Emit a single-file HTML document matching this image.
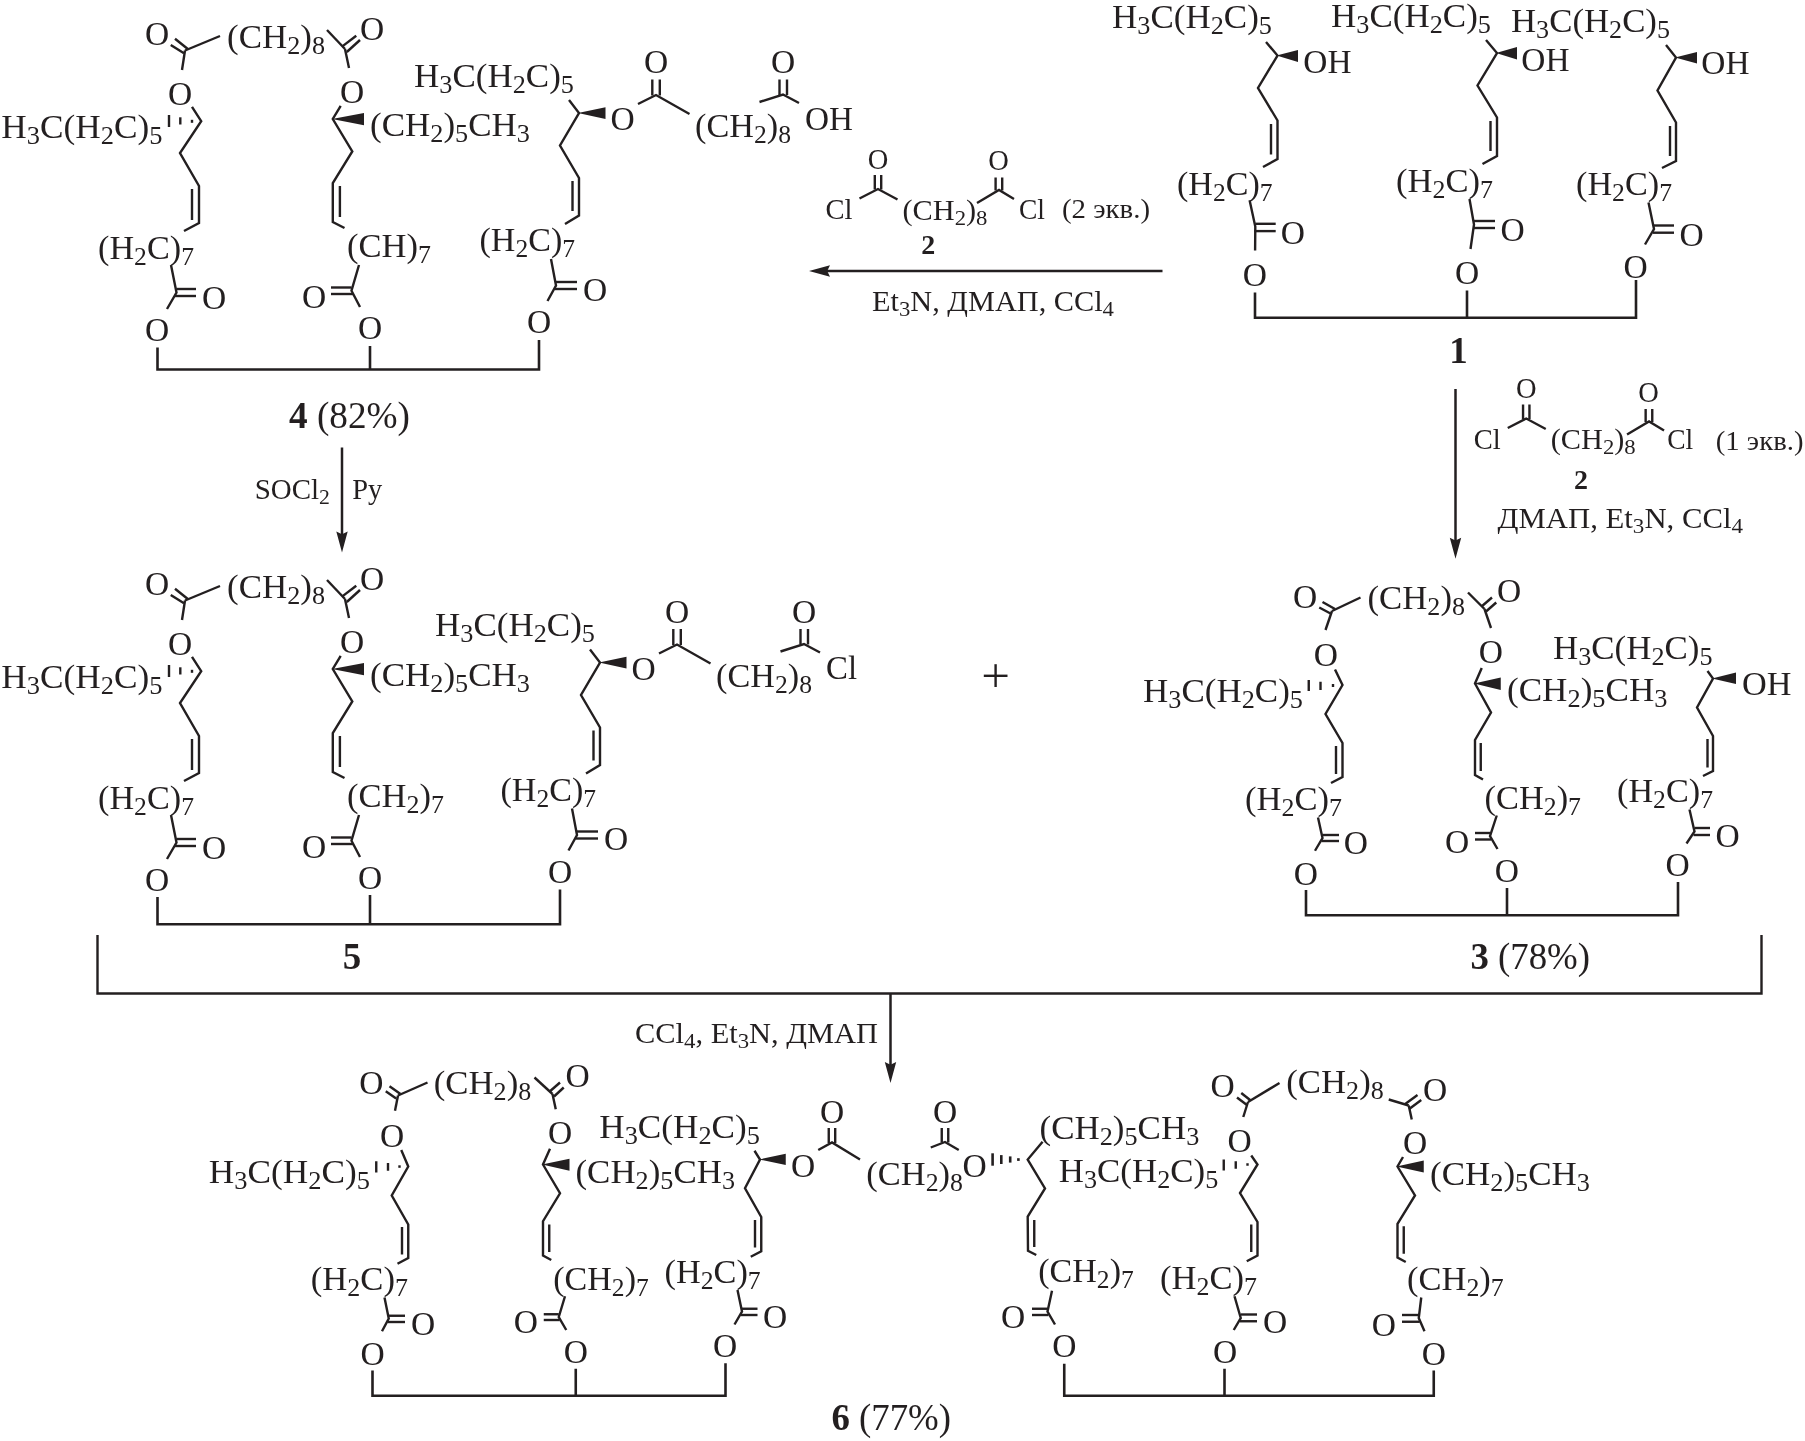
<!DOCTYPE html>
<html lang="ru">
<head>
<meta charset="utf-8">
<title>Reaction scheme</title>
<style>
html,body{margin:0;padding:0;background:#fff;}
svg{display:block;will-change:transform;}
svg text{font-family:"Liberation Serif",serif;font-size:33.5px;fill:#231f20;stroke:none;white-space:pre;}
svg line,svg polyline{stroke:#231f20;stroke-linecap:butt;}
</style>
</head>
<body>
<svg width="1805" height="1441" viewBox="0 0 1805 1441">
<rect x="0" y="0" width="1805" height="1441" fill="#ffffff"/>
<text x="157" y="44.97" text-anchor="middle">O</text>
<line x1="175" y1="38.75" x2="187.8" y2="49" stroke-width="2.4"/>
<line x1="170.75" y1="45" x2="184" y2="53.3" stroke-width="2.4"/>
<line x1="185" y1="50.5" x2="220" y2="36" stroke-width="2.4"/>
<line x1="185" y1="50.5" x2="182" y2="70" stroke-width="2.4"/>
<text x="227" y="47.8" textLength="98" lengthAdjust="spacingAndGlyphs">(CH<tspan dy="6" font-size="25.12">2</tspan><tspan dy="-6">)</tspan><tspan dy="6" font-size="25.12">8</tspan></text>
<line x1="327" y1="30" x2="345" y2="49" stroke-width="2.4"/>
<line x1="342.3" y1="46.4" x2="356.25" y2="35.75" stroke-width="2.4"/>
<line x1="346.8" y1="52" x2="360" y2="40" stroke-width="2.4"/>
<line x1="345" y1="49" x2="349" y2="68" stroke-width="2.4"/>
<text x="372" y="39.97" text-anchor="middle">O</text>
<text x="180" y="104.97" text-anchor="middle">O</text>
<text x="352" y="102.97" text-anchor="middle">O</text>
<polyline points="192,106.8 201.2,121.2 180,153 199,186 199,223 184,231" fill="none" stroke-width="2.4" stroke-linejoin="miter"/>
<line x1="192" y1="189" x2="192" y2="220" stroke-width="2.4"/>
<line x1="169" y1="115" x2="169" y2="127" stroke-width="2.4"/>
<line x1="180.3" y1="117.3" x2="180.3" y2="124.5" stroke-width="2.4"/>
<line x1="192" y1="119.8" x2="192" y2="122.8" stroke-width="2.4"/>
<text x="1.3" y="138.3" textLength="161.1" lengthAdjust="spacingAndGlyphs">H<tspan dy="6" font-size="25.12">3</tspan><tspan dy="-6">C(H</tspan><tspan dy="6" font-size="25.12">2</tspan><tspan dy="-6">C)</tspan><tspan dy="6" font-size="25.12">5</tspan></text>
<text x="98" y="258.8" textLength="96" lengthAdjust="spacingAndGlyphs">(H<tspan dy="6" font-size="25.12">2</tspan><tspan dy="-6">C)</tspan><tspan dy="6" font-size="25.12">7</tspan></text>
<polyline points="171,265 176.5,292.5 167,309" fill="none" stroke-width="2.4" stroke-linejoin="miter"/>
<line x1="176.5" y1="289" x2="196" y2="289" stroke-width="2.4"/>
<line x1="175" y1="296" x2="196" y2="296" stroke-width="2.4"/>
<text x="214" y="308.97" text-anchor="middle">O</text>
<text x="157" y="340.97" text-anchor="middle">O</text>
<polyline points="340.7,105.8 332.8,119 352.3,151.5 332.8,183 332.8,222 344.5,228" fill="none" stroke-width="2.4" stroke-linejoin="miter"/>
<line x1="339.9" y1="186" x2="339.9" y2="217" stroke-width="2.4"/>
<polygon points="332,119 364,112.9 364,125.2" fill="#231f20" stroke="none"/>
<text x="370" y="136" textLength="160" lengthAdjust="spacingAndGlyphs">(CH<tspan dy="6" font-size="25.12">2</tspan><tspan dy="-6">)</tspan><tspan dy="6" font-size="25.12">5</tspan><tspan dy="-6">CH</tspan><tspan dy="6" font-size="25.12">3</tspan></text>
<text x="347" y="257.2" textLength="84" lengthAdjust="spacingAndGlyphs">(CH)<tspan dy="6" font-size="25.12">7</tspan></text>
<polyline points="359,265 351.5,290.7 360,307" fill="none" stroke-width="2.4" stroke-linejoin="miter"/>
<line x1="331" y1="287.5" x2="351.5" y2="287.5" stroke-width="2.4"/>
<line x1="331" y1="294" x2="353" y2="294" stroke-width="2.4"/>
<text x="314" y="307.97" text-anchor="middle">O</text>
<text x="370" y="338.97" text-anchor="middle">O</text>
<text x="414" y="86.8" textLength="160" lengthAdjust="spacingAndGlyphs">H<tspan dy="6" font-size="25.12">3</tspan><tspan dy="-6">C(H</tspan><tspan dy="6" font-size="25.12">2</tspan><tspan dy="-6">C)</tspan><tspan dy="6" font-size="25.12">5</tspan></text>
<polyline points="569,100 579,113 560,145.5 579,178 579,215.5 565,224" fill="none" stroke-width="2.4" stroke-linejoin="miter"/>
<line x1="572.5" y1="181" x2="572.5" y2="211" stroke-width="2.4"/>
<polygon points="578,113 605.5,107.3 605.5,119" fill="#231f20" stroke="none"/>
<text x="622.5" y="130.47" text-anchor="middle">O</text>
<polyline points="638,104 656,95 689.5,114" fill="none" stroke-width="2.4" stroke-linejoin="miter"/>
<line x1="652.3" y1="95.5" x2="652.3" y2="79.5" stroke-width="2.4"/>
<line x1="659.8" y1="95.5" x2="659.8" y2="79.5" stroke-width="2.4"/>
<text x="656" y="73.47" text-anchor="middle">O</text>
<text x="695" y="137" textLength="96" lengthAdjust="spacingAndGlyphs">(CH<tspan dy="6" font-size="25.12">2</tspan><tspan dy="-6">)</tspan><tspan dy="6" font-size="25.12">8</tspan></text>
<polyline points="759.5,102 783,94.5 799,103" fill="none" stroke-width="2.4" stroke-linejoin="miter"/>
<line x1="779.5" y1="95" x2="779.5" y2="79.5" stroke-width="2.4"/>
<line x1="787" y1="95" x2="787" y2="79.5" stroke-width="2.4"/>
<text x="783" y="73.47" text-anchor="middle">O</text>
<text x="805" y="129.8" textLength="48" lengthAdjust="spacingAndGlyphs">OH</text>
<text x="479.5" y="251.3" textLength="95.5" lengthAdjust="spacingAndGlyphs">(H<tspan dy="6" font-size="25.12">2</tspan><tspan dy="-6">C)</tspan><tspan dy="6" font-size="25.12">7</tspan></text>
<polyline points="551,259 556,285.5 547.5,301" fill="none" stroke-width="2.4" stroke-linejoin="miter"/>
<line x1="556" y1="282" x2="577" y2="282" stroke-width="2.4"/>
<line x1="555" y1="289" x2="577" y2="289" stroke-width="2.4"/>
<text x="595" y="300.97" text-anchor="middle">O</text>
<text x="539" y="333.47" text-anchor="middle">O</text>
<polyline points="157.5,347.5 157.5,369.5 539,369.5 539,340" fill="none" stroke-width="2.6" stroke-linejoin="miter"/>
<line x1="370" y1="346" x2="370" y2="369.5" stroke-width="2.6"/>
<text x="157" y="594.97" text-anchor="middle">O</text>
<line x1="175" y1="588.75" x2="187.8" y2="599" stroke-width="2.4"/>
<line x1="170.75" y1="595" x2="184" y2="603.3" stroke-width="2.4"/>
<line x1="185" y1="600.5" x2="220" y2="586" stroke-width="2.4"/>
<line x1="185" y1="600.5" x2="182" y2="620" stroke-width="2.4"/>
<text x="227" y="597.8" textLength="98" lengthAdjust="spacingAndGlyphs">(CH<tspan dy="6" font-size="25.12">2</tspan><tspan dy="-6">)</tspan><tspan dy="6" font-size="25.12">8</tspan></text>
<line x1="327" y1="580" x2="345" y2="599" stroke-width="2.4"/>
<line x1="342.3" y1="596.4" x2="356.25" y2="585.75" stroke-width="2.4"/>
<line x1="346.8" y1="602" x2="360" y2="590" stroke-width="2.4"/>
<line x1="345" y1="599" x2="349" y2="618" stroke-width="2.4"/>
<text x="372" y="589.97" text-anchor="middle">O</text>
<text x="180" y="654.97" text-anchor="middle">O</text>
<text x="352" y="652.97" text-anchor="middle">O</text>
<polyline points="192,656.8 201.2,671.2 180,703 199,736 199,773 184,781" fill="none" stroke-width="2.4" stroke-linejoin="miter"/>
<line x1="192" y1="739" x2="192" y2="770" stroke-width="2.4"/>
<line x1="169" y1="665" x2="169" y2="677" stroke-width="2.4"/>
<line x1="180.3" y1="667.3" x2="180.3" y2="674.5" stroke-width="2.4"/>
<line x1="192" y1="669.8" x2="192" y2="672.8" stroke-width="2.4"/>
<text x="1.3" y="688.3" textLength="161.1" lengthAdjust="spacingAndGlyphs">H<tspan dy="6" font-size="25.12">3</tspan><tspan dy="-6">C(H</tspan><tspan dy="6" font-size="25.12">2</tspan><tspan dy="-6">C)</tspan><tspan dy="6" font-size="25.12">5</tspan></text>
<text x="98" y="808.8" textLength="96" lengthAdjust="spacingAndGlyphs">(H<tspan dy="6" font-size="25.12">2</tspan><tspan dy="-6">C)</tspan><tspan dy="6" font-size="25.12">7</tspan></text>
<polyline points="171,815 176.5,842.5 167,859" fill="none" stroke-width="2.4" stroke-linejoin="miter"/>
<line x1="176.5" y1="839" x2="196" y2="839" stroke-width="2.4"/>
<line x1="175" y1="846" x2="196" y2="846" stroke-width="2.4"/>
<text x="214" y="858.97" text-anchor="middle">O</text>
<text x="157" y="890.97" text-anchor="middle">O</text>
<polyline points="340.7,655.8 332.8,669 352.3,701.5 332.8,733 332.8,772 344.5,778" fill="none" stroke-width="2.4" stroke-linejoin="miter"/>
<line x1="339.9" y1="736" x2="339.9" y2="767" stroke-width="2.4"/>
<polygon points="332,669 364,662.9 364,675.2" fill="#231f20" stroke="none"/>
<text x="370" y="686" textLength="160" lengthAdjust="spacingAndGlyphs">(CH<tspan dy="6" font-size="25.12">2</tspan><tspan dy="-6">)</tspan><tspan dy="6" font-size="25.12">5</tspan><tspan dy="-6">CH</tspan><tspan dy="6" font-size="25.12">3</tspan></text>
<text x="347" y="807.2" textLength="97" lengthAdjust="spacingAndGlyphs">(CH<tspan dy="6" font-size="25.12">2</tspan><tspan dy="-6">)</tspan><tspan dy="6" font-size="25.12">7</tspan></text>
<polyline points="359,815 351.5,840.7 360,857" fill="none" stroke-width="2.4" stroke-linejoin="miter"/>
<line x1="331" y1="837.5" x2="351.5" y2="837.5" stroke-width="2.4"/>
<line x1="331" y1="844" x2="353" y2="844" stroke-width="2.4"/>
<text x="314" y="857.97" text-anchor="middle">O</text>
<text x="370" y="888.97" text-anchor="middle">O</text>
<text x="435" y="636.3" textLength="160" lengthAdjust="spacingAndGlyphs">H<tspan dy="6" font-size="25.12">3</tspan><tspan dy="-6">C(H</tspan><tspan dy="6" font-size="25.12">2</tspan><tspan dy="-6">C)</tspan><tspan dy="6" font-size="25.12">5</tspan></text>
<polyline points="590,649.5 600,662.5 581,695 600,727.5 600,765 586,773.5" fill="none" stroke-width="2.4" stroke-linejoin="miter"/>
<line x1="593.5" y1="730.5" x2="593.5" y2="760.5" stroke-width="2.4"/>
<polygon points="599,662.5 626.5,656.8 626.5,668.5" fill="#231f20" stroke="none"/>
<text x="643.5" y="679.97" text-anchor="middle">O</text>
<polyline points="659,653.5 677,644.5 710.5,663.5" fill="none" stroke-width="2.4" stroke-linejoin="miter"/>
<line x1="673.3" y1="645" x2="673.3" y2="629" stroke-width="2.4"/>
<line x1="680.8" y1="645" x2="680.8" y2="629" stroke-width="2.4"/>
<text x="677" y="622.97" text-anchor="middle">O</text>
<text x="716" y="686.5" textLength="96" lengthAdjust="spacingAndGlyphs">(CH<tspan dy="6" font-size="25.12">2</tspan><tspan dy="-6">)</tspan><tspan dy="6" font-size="25.12">8</tspan></text>
<polyline points="780.5,651.5 804,644 820,652.5" fill="none" stroke-width="2.4" stroke-linejoin="miter"/>
<line x1="800.5" y1="644.5" x2="800.5" y2="629" stroke-width="2.4"/>
<line x1="808" y1="644.5" x2="808" y2="629" stroke-width="2.4"/>
<text x="804" y="622.97" text-anchor="middle">O</text>
<text x="826" y="679.3" textLength="31" lengthAdjust="spacingAndGlyphs">Cl</text>
<text x="500.5" y="800.8" textLength="95.5" lengthAdjust="spacingAndGlyphs">(H<tspan dy="6" font-size="25.12">2</tspan><tspan dy="-6">C)</tspan><tspan dy="6" font-size="25.12">7</tspan></text>
<polyline points="572,808.5 577,835 568.5,850.5" fill="none" stroke-width="2.4" stroke-linejoin="miter"/>
<line x1="577" y1="831.5" x2="598" y2="831.5" stroke-width="2.4"/>
<line x1="576" y1="838.5" x2="598" y2="838.5" stroke-width="2.4"/>
<text x="616" y="850.47" text-anchor="middle">O</text>
<text x="560" y="882.97" text-anchor="middle">O</text>
<polyline points="157.5,897 157.5,924.2 560,924.2 560,889.5" fill="none" stroke-width="2.6" stroke-linejoin="miter"/>
<line x1="370" y1="895" x2="370" y2="924.2" stroke-width="2.6"/>
<text x="1112" y="27.8" textLength="160" lengthAdjust="spacingAndGlyphs">H<tspan dy="6" font-size="25.12">3</tspan><tspan dy="-6">C(H</tspan><tspan dy="6" font-size="25.12">2</tspan><tspan dy="-6">C)</tspan><tspan dy="6" font-size="25.12">5</tspan></text>
<polyline points="1266,42 1277.5,55.5 1258,88 1277.5,120.5 1277.5,159 1263,167" fill="none" stroke-width="2.4" stroke-linejoin="miter"/>
<line x1="1271" y1="124" x2="1271" y2="154.5" stroke-width="2.4"/>
<polygon points="1276.5,55.5 1298,50 1298,62" fill="#231f20" stroke="none"/>
<text x="1303.3" y="73.3" textLength="48.2" lengthAdjust="spacingAndGlyphs">OH</text>
<text x="1177" y="194.8" textLength="95.5" lengthAdjust="spacingAndGlyphs">(H<tspan dy="6" font-size="25.12">2</tspan><tspan dy="-6">C)</tspan><tspan dy="6" font-size="25.12">7</tspan></text>
<polyline points="1249.6,200.3 1255.3,226.5 1255.1,250.6" fill="none" stroke-width="2.4" stroke-linejoin="miter"/>
<line x1="1255.3" y1="223.8" x2="1275.7" y2="223.8" stroke-width="2.4"/>
<line x1="1254.3" y1="231.1" x2="1275.7" y2="231.1" stroke-width="2.4"/>
<text x="1292.8" y="243.97" text-anchor="middle">O</text>
<text x="1254.8" y="285.97" text-anchor="middle">O</text>
<text x="1331" y="26.8" textLength="160" lengthAdjust="spacingAndGlyphs">H<tspan dy="6" font-size="25.12">3</tspan><tspan dy="-6">C(H</tspan><tspan dy="6" font-size="25.12">2</tspan><tspan dy="-6">C)</tspan><tspan dy="6" font-size="25.12">5</tspan></text>
<polyline points="1486,40 1497,53 1477.5,85.5 1497,117.5 1497,156 1482.5,164" fill="none" stroke-width="2.4" stroke-linejoin="miter"/>
<line x1="1490.5" y1="121" x2="1490.5" y2="151" stroke-width="2.4"/>
<polygon points="1496,53 1517,47 1517,59.5" fill="#231f20" stroke="none"/>
<text x="1521.3" y="70.8" textLength="48.2" lengthAdjust="spacingAndGlyphs">OH</text>
<text x="1396" y="191.8" textLength="97" lengthAdjust="spacingAndGlyphs">(H<tspan dy="6" font-size="25.12">2</tspan><tspan dy="-6">C)</tspan><tspan dy="6" font-size="25.12">7</tspan></text>
<polyline points="1469.5,199 1474,224.5 1470.5,249" fill="none" stroke-width="2.4" stroke-linejoin="miter"/>
<line x1="1474" y1="221" x2="1495" y2="221" stroke-width="2.4"/>
<line x1="1473" y1="228" x2="1495" y2="228" stroke-width="2.4"/>
<text x="1512.5" y="241.47" text-anchor="middle">O</text>
<text x="1467" y="283.97" text-anchor="middle">O</text>
<text x="1511" y="32.3" textLength="159" lengthAdjust="spacingAndGlyphs">H<tspan dy="6" font-size="25.12">3</tspan><tspan dy="-6">C(H</tspan><tspan dy="6" font-size="25.12">2</tspan><tspan dy="-6">C)</tspan><tspan dy="6" font-size="25.12">5</tspan></text>
<polyline points="1666,45 1676,57.5 1657.5,90.5 1676,122.5 1676,161 1662,168" fill="none" stroke-width="2.4" stroke-linejoin="miter"/>
<line x1="1670" y1="126" x2="1670" y2="156" stroke-width="2.4"/>
<polygon points="1675,57.5 1697,52 1697,63.5" fill="#231f20" stroke="none"/>
<text x="1701.3" y="73.8" textLength="48.2" lengthAdjust="spacingAndGlyphs">OH</text>
<text x="1576" y="194.8" textLength="96" lengthAdjust="spacingAndGlyphs">(H<tspan dy="6" font-size="25.12">2</tspan><tspan dy="-6">C)</tspan><tspan dy="6" font-size="25.12">7</tspan></text>
<polyline points="1648.5,202.5 1654,229 1645,244.5" fill="none" stroke-width="2.4" stroke-linejoin="miter"/>
<line x1="1654" y1="225.5" x2="1674" y2="225.5" stroke-width="2.4"/>
<line x1="1653" y1="232.7" x2="1674" y2="232.7" stroke-width="2.4"/>
<text x="1691.5" y="245.97" text-anchor="middle">O</text>
<text x="1635.5" y="278.47" text-anchor="middle">O</text>
<polyline points="1255,292.5 1255,317.7 1636,317.7 1636,280" fill="none" stroke-width="2.6" stroke-linejoin="miter"/>
<line x1="1467" y1="290.5" x2="1467" y2="317.7" stroke-width="2.6"/>
<text x="825.5" y="219.2" style="font-size:28.5px" textLength="27" lengthAdjust="spacingAndGlyphs">Cl</text>
<text x="878" y="168.83" text-anchor="middle" style="font-size:28.5px">O</text>
<polyline points="859.5,198.5 878,189 897.5,199.5" fill="none" stroke-width="2.4" stroke-linejoin="miter"/>
<line x1="874.8" y1="189.5" x2="874.8" y2="175" stroke-width="2.4"/>
<line x1="881.2" y1="189.5" x2="881.2" y2="175" stroke-width="2.4"/>
<text x="902.5" y="219.6" style="font-size:28.5px" textLength="85" lengthAdjust="spacingAndGlyphs">(CH<tspan dy="5.1" font-size="21.38">2</tspan><tspan dy="-5.1">)</tspan><tspan dy="5.1" font-size="21.38">8</tspan></text>
<polyline points="977,203 999,190 1014,199" fill="none" stroke-width="2.4" stroke-linejoin="miter"/>
<line x1="995.6" y1="190.5" x2="995.6" y2="177.5" stroke-width="2.4"/>
<line x1="1002.2" y1="190.5" x2="1002.2" y2="177.5" stroke-width="2.4"/>
<text x="998.5" y="170.33" text-anchor="middle" style="font-size:28.5px">O</text>
<text x="1019" y="219.4" style="font-size:28.5px" textLength="26" lengthAdjust="spacingAndGlyphs">Cl</text>
<text x="1062" y="217.5" style="font-size:26.5px" textLength="88" lengthAdjust="spacingAndGlyphs">(2 экв.)</text>
<text x="928.3" y="253.9" style="font-size:28px" font-weight="bold" text-anchor="middle">2</text>
<line x1="1162.5" y1="271" x2="826.2" y2="271" stroke-width="2.5"/>
<polygon points="809,271 830,265.3 827.2,271 830,276.7" fill="#231f20" stroke="none"/>
<text x="872" y="310.5" style="font-size:28.5px" textLength="242" lengthAdjust="spacingAndGlyphs">Et<tspan dy="5.1" font-size="21.38">3</tspan><tspan dy="-5.1">N, ДМАП, CCl</tspan><tspan dy="5.1" font-size="21.38">4</tspan></text>
<text x="1473.75" y="448.7" style="font-size:28.5px" textLength="27" lengthAdjust="spacingAndGlyphs">Cl</text>
<text x="1526.25" y="398.33" text-anchor="middle" style="font-size:28.5px">O</text>
<polyline points="1507.75,428 1526.25,418.5 1545.75,429" fill="none" stroke-width="2.4" stroke-linejoin="miter"/>
<line x1="1523.05" y1="419" x2="1523.05" y2="404.5" stroke-width="2.4"/>
<line x1="1529.45" y1="419" x2="1529.45" y2="404.5" stroke-width="2.4"/>
<text x="1550.75" y="449.1" style="font-size:28.5px" textLength="85" lengthAdjust="spacingAndGlyphs">(CH<tspan dy="5.1" font-size="21.38">2</tspan><tspan dy="-5.1">)</tspan><tspan dy="5.1" font-size="21.38">8</tspan></text>
<polyline points="1627.05,434.5 1649.05,421.5 1664.05,430.5" fill="none" stroke-width="2.4" stroke-linejoin="miter"/>
<line x1="1645.65" y1="422" x2="1645.65" y2="409" stroke-width="2.4"/>
<line x1="1652.25" y1="422" x2="1652.25" y2="409" stroke-width="2.4"/>
<text x="1648.55" y="401.83" text-anchor="middle" style="font-size:28.5px">O</text>
<text x="1667.25" y="448.9" style="font-size:28.5px" textLength="26" lengthAdjust="spacingAndGlyphs">Cl</text>
<text x="1715.75" y="449.5" style="font-size:26.5px" textLength="87.75" lengthAdjust="spacingAndGlyphs">(1 экв.)</text>
<text x="1581" y="488.5" style="font-size:28px" font-weight="bold" text-anchor="middle">2</text>
<line x1="1455.5" y1="389" x2="1455.5" y2="541.55" stroke-width="2.5"/>
<polygon points="1455.5,558.75 1449.8,537.75 1455.5,540.55 1461.2,537.75" fill="#231f20" stroke="none"/>
<text x="1497.5" y="528" style="font-size:28.5px" textLength="245.5" lengthAdjust="spacingAndGlyphs">ДМАП, Et<tspan dy="5.1" font-size="21.38">3</tspan><tspan dy="-5.1">N, CCl</tspan><tspan dy="5.1" font-size="21.38">4</tspan></text>
<line x1="342" y1="447.5" x2="342" y2="535.3" stroke-width="2.5"/>
<polygon points="342,552.5 336.3,531.5 342,534.3 347.7,531.5" fill="#231f20" stroke="none"/>
<text x="254.7" y="499" style="font-size:28.5px" textLength="75.3" lengthAdjust="spacingAndGlyphs">SOCl<tspan dy="5.1" font-size="21.38">2</tspan></text>
<text x="352.2" y="499" style="font-size:28.5px" textLength="30" lengthAdjust="spacingAndGlyphs">Py</text>
<text x="1305" y="607.97" text-anchor="middle">O</text>
<line x1="1322.5" y1="602" x2="1335" y2="609" stroke-width="2.4"/>
<line x1="1319.25" y1="607.5" x2="1330.5" y2="613.5" stroke-width="2.4"/>
<line x1="1332" y1="611" x2="1360.5" y2="597.5" stroke-width="2.4"/>
<line x1="1332" y1="611" x2="1325.5" y2="630" stroke-width="2.4"/>
<text x="1367.5" y="609.2" textLength="97.5" lengthAdjust="spacingAndGlyphs">(CH<tspan dy="6" font-size="25.12">2</tspan><tspan dy="-6">)</tspan><tspan dy="6" font-size="25.12">8</tspan></text>
<line x1="1468" y1="592.5" x2="1484.5" y2="609" stroke-width="2.4"/>
<line x1="1481.5" y1="606.5" x2="1492" y2="597.5" stroke-width="2.4"/>
<line x1="1486" y1="611.5" x2="1496.25" y2="602.5" stroke-width="2.4"/>
<line x1="1484.5" y1="609" x2="1491" y2="628" stroke-width="2.4"/>
<text x="1509" y="601.97" text-anchor="middle">O</text>
<text x="1325.75" y="665.97" text-anchor="middle">O</text>
<text x="1490.75" y="663.47" text-anchor="middle">O</text>
<polyline points="1335,669.5 1342.5,685 1325.5,714 1342.5,743 1342.5,777 1331,783" fill="none" stroke-width="2.4" stroke-linejoin="miter"/>
<line x1="1336" y1="746" x2="1336" y2="774" stroke-width="2.4"/>
<line x1="1308.75" y1="680" x2="1308.75" y2="691" stroke-width="2.4"/>
<line x1="1320.5" y1="681.75" x2="1320.5" y2="690" stroke-width="2.4"/>
<line x1="1333" y1="684" x2="1333" y2="687" stroke-width="2.4"/>
<text x="1143" y="701.8" textLength="160" lengthAdjust="spacingAndGlyphs">H<tspan dy="6" font-size="25.12">3</tspan><tspan dy="-6">C(H</tspan><tspan dy="6" font-size="25.12">2</tspan><tspan dy="-6">C)</tspan><tspan dy="6" font-size="25.12">5</tspan></text>
<text x="1245" y="809.8" textLength="97" lengthAdjust="spacingAndGlyphs">(H<tspan dy="6" font-size="25.12">2</tspan><tspan dy="-6">C)</tspan><tspan dy="6" font-size="25.12">7</tspan></text>
<polyline points="1318,817.5 1322.5,838 1315,850.75" fill="none" stroke-width="2.4" stroke-linejoin="miter"/>
<line x1="1322.5" y1="835" x2="1339" y2="835" stroke-width="2.4"/>
<line x1="1321.5" y1="841" x2="1339" y2="841" stroke-width="2.4"/>
<text x="1355.75" y="853.97" text-anchor="middle">O</text>
<text x="1305.75" y="884.72" text-anchor="middle">O</text>
<polyline points="1481.75,668 1475,683.5 1491,712.5 1475,740 1475,775 1483,779.5" fill="none" stroke-width="2.4" stroke-linejoin="miter"/>
<line x1="1480.75" y1="743" x2="1480.75" y2="771" stroke-width="2.4"/>
<polygon points="1474,683.5 1500.75,677.5 1500.75,690" fill="#231f20" stroke="none"/>
<text x="1507" y="701.3" textLength="160.5" lengthAdjust="spacingAndGlyphs">(CH<tspan dy="6" font-size="25.12">2</tspan><tspan dy="-6">)</tspan><tspan dy="6" font-size="25.12">5</tspan><tspan dy="-6">CH</tspan><tspan dy="6" font-size="25.12">3</tspan></text>
<text x="1484.5" y="809.3" textLength="96.5" lengthAdjust="spacingAndGlyphs">(CH<tspan dy="6" font-size="25.12">2</tspan><tspan dy="-6">)</tspan><tspan dy="6" font-size="25.12">7</tspan></text>
<polyline points="1496.75,815.5 1490,836.2 1497.5,849" fill="none" stroke-width="2.4" stroke-linejoin="miter"/>
<line x1="1475" y1="833" x2="1490" y2="833" stroke-width="2.4"/>
<line x1="1475" y1="839.5" x2="1491" y2="839.5" stroke-width="2.4"/>
<text x="1457" y="853.47" text-anchor="middle">O</text>
<text x="1506.75" y="881.97" text-anchor="middle">O</text>
<text x="1553" y="658.8" textLength="159.5" lengthAdjust="spacingAndGlyphs">H<tspan dy="6" font-size="25.12">3</tspan><tspan dy="-6">C(H</tspan><tspan dy="6" font-size="25.12">2</tspan><tspan dy="-6">C)</tspan><tspan dy="6" font-size="25.12">5</tspan></text>
<polyline points="1707.5,671 1713,678.5 1697,707.5 1713,736 1713,771 1703,776" fill="none" stroke-width="2.4" stroke-linejoin="miter"/>
<line x1="1707.5" y1="739" x2="1707.5" y2="767.5" stroke-width="2.4"/>
<polygon points="1712,678.5 1736,672.5 1736,684" fill="#231f20" stroke="none"/>
<text x="1742" y="694.8" textLength="49.5" lengthAdjust="spacingAndGlyphs">OH</text>
<text x="1617" y="801.8" textLength="96" lengthAdjust="spacingAndGlyphs">(H<tspan dy="6" font-size="25.12">2</tspan><tspan dy="-6">C)</tspan><tspan dy="6" font-size="25.12">7</tspan></text>
<polyline points="1689.5,809.5 1694.5,831.5 1686.5,843.5" fill="none" stroke-width="2.4" stroke-linejoin="miter"/>
<line x1="1694.5" y1="828" x2="1710" y2="828" stroke-width="2.4"/>
<line x1="1693.5" y1="835" x2="1710" y2="835" stroke-width="2.4"/>
<text x="1727.5" y="846.97" text-anchor="middle">O</text>
<text x="1677.5" y="875.97" text-anchor="middle">O</text>
<polyline points="1306,890 1306,915.3 1678,915.3 1678,882" fill="none" stroke-width="2.6" stroke-linejoin="miter"/>
<line x1="1507" y1="888" x2="1507" y2="915.3" stroke-width="2.6"/>
<text x="371.25" y="1093.57" text-anchor="middle">O</text>
<line x1="389.5" y1="1086.25" x2="400.5" y2="1094.1" stroke-width="2.4"/>
<line x1="385.75" y1="1091.25" x2="396.2" y2="1098.6" stroke-width="2.4"/>
<line x1="398" y1="1095.5" x2="427.5" y2="1082.5" stroke-width="2.4"/>
<line x1="398" y1="1095.5" x2="395" y2="1110.75" stroke-width="2.4"/>
<text x="433.75" y="1093.6" textLength="97.5" lengthAdjust="spacingAndGlyphs">(CH<tspan dy="6" font-size="25.12">2</tspan><tspan dy="-6">)</tspan><tspan dy="6" font-size="25.12">8</tspan></text>
<line x1="534.5" y1="1077.5" x2="552.5" y2="1094" stroke-width="2.4"/>
<line x1="549.7" y1="1091.5" x2="560" y2="1082.5" stroke-width="2.4"/>
<line x1="554" y1="1096.5" x2="563.75" y2="1087.5" stroke-width="2.4"/>
<line x1="552.5" y1="1094" x2="555.75" y2="1109.25" stroke-width="2.4"/>
<text x="577.5" y="1087.27" text-anchor="middle">O</text>
<text x="392" y="1146.97" text-anchor="middle">O</text>
<text x="560" y="1144.22" text-anchor="middle">O</text>
<polyline points="401.25,1150 408.25,1166.5 391.75,1195.5 408.25,1224.5 408.25,1258 397.5,1263.75" fill="none" stroke-width="2.4" stroke-linejoin="miter"/>
<line x1="402" y1="1227" x2="402" y2="1254.5" stroke-width="2.4"/>
<line x1="376.25" y1="1161.25" x2="376.25" y2="1172.5" stroke-width="2.4"/>
<line x1="388" y1="1163" x2="388" y2="1170.75" stroke-width="2.4"/>
<line x1="399.5" y1="1165.3" x2="399.5" y2="1167.8" stroke-width="2.4"/>
<text x="208.75" y="1183.3" textLength="161.25" lengthAdjust="spacingAndGlyphs">H<tspan dy="6" font-size="25.12">3</tspan><tspan dy="-6">C(H</tspan><tspan dy="6" font-size="25.12">2</tspan><tspan dy="-6">C)</tspan><tspan dy="6" font-size="25.12">5</tspan></text>
<text x="310.75" y="1289.55" textLength="97.25" lengthAdjust="spacingAndGlyphs">(H<tspan dy="6" font-size="25.12">2</tspan><tspan dy="-6">C)</tspan><tspan dy="6" font-size="25.12">7</tspan></text>
<polyline points="384.5,1297.5 388.75,1318.5 382,1331.25" fill="none" stroke-width="2.4" stroke-linejoin="miter"/>
<line x1="388.75" y1="1315.75" x2="405" y2="1315.75" stroke-width="2.4"/>
<line x1="387.75" y1="1322" x2="405" y2="1322" stroke-width="2.4"/>
<text x="423" y="1335.22" text-anchor="middle">O</text>
<text x="372.5" y="1364.72" text-anchor="middle">O</text>
<polyline points="550,1148.75 543,1164.5 560,1193.25 543,1221.25 543,1255.5 551.25,1260" fill="none" stroke-width="2.4" stroke-linejoin="miter"/>
<line x1="549.25" y1="1224.5" x2="549.25" y2="1252" stroke-width="2.4"/>
<polygon points="542,1164.5 569.5,1158.75 569.5,1170.75" fill="#231f20" stroke="none"/>
<text x="575.5" y="1183.3" textLength="159.5" lengthAdjust="spacingAndGlyphs">(CH<tspan dy="6" font-size="25.12">2</tspan><tspan dy="-6">)</tspan><tspan dy="6" font-size="25.12">5</tspan><tspan dy="-6">CH</tspan><tspan dy="6" font-size="25.12">3</tspan></text>
<text x="553.25" y="1289.55" textLength="95.5" lengthAdjust="spacingAndGlyphs">(CH<tspan dy="6" font-size="25.12">2</tspan><tspan dy="-6">)</tspan><tspan dy="6" font-size="25.12">7</tspan></text>
<polyline points="565,1296.25 558.75,1317 566.25,1330" fill="none" stroke-width="2.4" stroke-linejoin="miter"/>
<line x1="543.75" y1="1314.25" x2="558.75" y2="1314.25" stroke-width="2.4"/>
<line x1="543.75" y1="1320" x2="559.75" y2="1320" stroke-width="2.4"/>
<text x="525.75" y="1333.47" text-anchor="middle">O</text>
<text x="575.75" y="1362.72" text-anchor="middle">O</text>
<text x="599.25" y="1137.8" textLength="160.75" lengthAdjust="spacingAndGlyphs">H<tspan dy="6" font-size="25.12">3</tspan><tspan dy="-6">C(H</tspan><tspan dy="6" font-size="25.12">2</tspan><tspan dy="-6">C)</tspan><tspan dy="6" font-size="25.12">5</tspan></text>
<polyline points="754.5,1150.75 760,1159.5 745,1188.25 761.25,1217 761.25,1251.25 750.75,1256.75" fill="none" stroke-width="2.4" stroke-linejoin="miter"/>
<line x1="755" y1="1220" x2="755" y2="1247.5" stroke-width="2.4"/>
<polygon points="759,1159.5 785.75,1153.75 785.75,1165" fill="#231f20" stroke="none"/>
<text x="803" y="1176.72" text-anchor="middle">O</text>
<polyline points="818.25,1150 832,1142.5 860,1159.5" fill="none" stroke-width="2.4" stroke-linejoin="miter"/>
<line x1="828.75" y1="1143" x2="828.75" y2="1128" stroke-width="2.4"/>
<line x1="835.2" y1="1143" x2="835.2" y2="1128" stroke-width="2.4"/>
<text x="832" y="1122.97" text-anchor="middle">O</text>
<text x="866.25" y="1185.3" textLength="96.75" lengthAdjust="spacingAndGlyphs">(CH<tspan dy="6" font-size="25.12">2</tspan><tspan dy="-6">)</tspan><tspan dy="6" font-size="25.12">8</tspan></text>
<polyline points="930.75,1147.5 945,1142 958.75,1150" fill="none" stroke-width="2.4" stroke-linejoin="miter"/>
<line x1="941.75" y1="1142.5" x2="941.75" y2="1128" stroke-width="2.4"/>
<line x1="948.25" y1="1142.5" x2="948.25" y2="1128" stroke-width="2.4"/>
<text x="945" y="1122.97" text-anchor="middle">O</text>
<text x="974.5" y="1176.72" text-anchor="middle">O</text>
<text x="664.5" y="1283.4" textLength="96.25" lengthAdjust="spacingAndGlyphs">(H<tspan dy="6" font-size="25.12">2</tspan><tspan dy="-6">C)</tspan><tspan dy="6" font-size="25.12">7</tspan></text>
<polyline points="737.5,1290 742,1311.5 734.5,1324.5" fill="none" stroke-width="2.4" stroke-linejoin="miter"/>
<line x1="742" y1="1308.75" x2="757.5" y2="1308.75" stroke-width="2.4"/>
<line x1="741" y1="1315" x2="757.5" y2="1315" stroke-width="2.4"/>
<text x="775" y="1328.47" text-anchor="middle">O</text>
<text x="725" y="1357.22" text-anchor="middle">O</text>
<polyline points="372.5,1370.5 372.5,1395.7 725.5,1395.7 725.5,1363.25" fill="none" stroke-width="2.6" stroke-linejoin="miter"/>
<line x1="575.75" y1="1368.75" x2="575.75" y2="1395.7" stroke-width="2.6"/>
<line x1="992.6" y1="1153.3" x2="992.6" y2="1165.7" stroke-width="2.6"/>
<line x1="1001.3" y1="1155.1" x2="1001.3" y2="1164" stroke-width="2.6"/>
<line x1="1010.2" y1="1156.4" x2="1010.2" y2="1162.6" stroke-width="2.6"/>
<line x1="1018.4" y1="1158.2" x2="1018.4" y2="1160.9" stroke-width="2.6"/>
<polyline points="1042.6,1141.8 1027.7,1159.5 1045,1188.5 1027.7,1216.5 1028,1250.75 1036.25,1255" fill="none" stroke-width="2.4" stroke-linejoin="miter"/>
<line x1="1034.25" y1="1220" x2="1034.25" y2="1247" stroke-width="2.4"/>
<text x="1039.5" y="1138.8" textLength="159.75" lengthAdjust="spacingAndGlyphs">(CH<tspan dy="6" font-size="25.12">2</tspan><tspan dy="-6">)</tspan><tspan dy="6" font-size="25.12">5</tspan><tspan dy="-6">CH</tspan><tspan dy="6" font-size="25.12">3</tspan></text>
<text x="1038.25" y="1282.05" textLength="95.5" lengthAdjust="spacingAndGlyphs">(CH<tspan dy="6" font-size="25.12">2</tspan><tspan dy="-6">)</tspan><tspan dy="6" font-size="25.12">7</tspan></text>
<polyline points="1052,1290.75 1047.5,1311.5 1055,1324.5" fill="none" stroke-width="2.4" stroke-linejoin="miter"/>
<line x1="1032" y1="1308.75" x2="1047.5" y2="1308.75" stroke-width="2.4"/>
<line x1="1032" y1="1315" x2="1048.5" y2="1315" stroke-width="2.4"/>
<text x="1013" y="1328.47" text-anchor="middle">O</text>
<text x="1064.25" y="1357.22" text-anchor="middle">O</text>
<text x="1222.5" y="1096.57" text-anchor="middle">O</text>
<line x1="1241.25" y1="1093" x2="1250.4" y2="1100.3" stroke-width="2.4"/>
<line x1="1237" y1="1097.5" x2="1246.6" y2="1104.8" stroke-width="2.4"/>
<line x1="1248" y1="1102" x2="1279.5" y2="1083" stroke-width="2.4"/>
<line x1="1248" y1="1102" x2="1243.25" y2="1117" stroke-width="2.4"/>
<text x="1286.25" y="1092.6" textLength="97.5" lengthAdjust="spacingAndGlyphs">(CH<tspan dy="6" font-size="25.12">2</tspan><tspan dy="-6">)</tspan><tspan dy="6" font-size="25.12">8</tspan></text>
<text x="1239.5" y="1152.22" text-anchor="middle">O</text>
<polyline points="1251.25,1155.5 1257.5,1164.5 1240,1193 1257.5,1222 1257.5,1255.5 1246.75,1261.25" fill="none" stroke-width="2.4" stroke-linejoin="miter"/>
<line x1="1251.25" y1="1224.5" x2="1251.25" y2="1252" stroke-width="2.4"/>
<line x1="1223.75" y1="1159.5" x2="1223.75" y2="1170.5" stroke-width="2.4"/>
<line x1="1235.75" y1="1161.25" x2="1235.75" y2="1168.75" stroke-width="2.4"/>
<line x1="1247.5" y1="1163.25" x2="1247.5" y2="1165.75" stroke-width="2.4"/>
<text x="1058.75" y="1182.05" textLength="159.5" lengthAdjust="spacingAndGlyphs">H<tspan dy="6" font-size="25.12">3</tspan><tspan dy="-6">C(H</tspan><tspan dy="6" font-size="25.12">2</tspan><tspan dy="-6">C)</tspan><tspan dy="6" font-size="25.12">5</tspan></text>
<text x="1160" y="1289.05" textLength="97" lengthAdjust="spacingAndGlyphs">(H<tspan dy="6" font-size="25.12">2</tspan><tspan dy="-6">C)</tspan><tspan dy="6" font-size="25.12">7</tspan></text>
<polyline points="1234.5,1296.25 1240.75,1318 1233.75,1330" fill="none" stroke-width="2.4" stroke-linejoin="miter"/>
<line x1="1240.75" y1="1314.5" x2="1257" y2="1314.5" stroke-width="2.4"/>
<line x1="1239.75" y1="1321.25" x2="1257" y2="1321.25" stroke-width="2.4"/>
<text x="1275" y="1333.47" text-anchor="middle">O</text>
<text x="1225" y="1362.72" text-anchor="middle">O</text>
<line x1="1388.75" y1="1099.5" x2="1408.75" y2="1105.5" stroke-width="2.4"/>
<line x1="1405.2" y1="1104" x2="1417.5" y2="1095" stroke-width="2.4"/>
<line x1="1409.2" y1="1109" x2="1421.25" y2="1100" stroke-width="2.4"/>
<line x1="1408.75" y1="1105.5" x2="1411.75" y2="1119.5" stroke-width="2.4"/>
<text x="1435" y="1101.47" text-anchor="middle">O</text>
<text x="1415" y="1153.97" text-anchor="middle">O</text>
<polyline points="1403,1157 1397.5,1166.5 1415,1195.5 1397.5,1223.75 1397.5,1257.5 1405.75,1262" fill="none" stroke-width="2.4" stroke-linejoin="miter"/>
<line x1="1403.75" y1="1226.25" x2="1403.75" y2="1253.75" stroke-width="2.4"/>
<polygon points="1396.5,1166.5 1423.75,1160.5 1423.75,1172.5" fill="#231f20" stroke="none"/>
<text x="1430" y="1184.55" textLength="160" lengthAdjust="spacingAndGlyphs">(CH<tspan dy="6" font-size="25.12">2</tspan><tspan dy="-6">)</tspan><tspan dy="6" font-size="25.12">5</tspan><tspan dy="-6">CH</tspan><tspan dy="6" font-size="25.12">3</tspan></text>
<text x="1407" y="1290.3" textLength="96.75" lengthAdjust="spacingAndGlyphs">(CH<tspan dy="6" font-size="25.12">2</tspan><tspan dy="-6">)</tspan><tspan dy="6" font-size="25.12">7</tspan></text>
<polyline points="1421.25,1297.5 1418.75,1318 1424.5,1331.25" fill="none" stroke-width="2.4" stroke-linejoin="miter"/>
<line x1="1402" y1="1315" x2="1418.75" y2="1315" stroke-width="2.4"/>
<line x1="1402" y1="1321.75" x2="1419.75" y2="1321.75" stroke-width="2.4"/>
<text x="1383.75" y="1335.97" text-anchor="middle">O</text>
<text x="1433.75" y="1364.72" text-anchor="middle">O</text>
<polyline points="1064.25,1363.75 1064.25,1395.7 1433.75,1395.7 1433.75,1370.5" fill="none" stroke-width="2.6" stroke-linejoin="miter"/>
<line x1="1224.5" y1="1368.75" x2="1224.5" y2="1395.7" stroke-width="2.6"/>
<polyline points="97.5,935 97.5,993.5 1761.5,993.5 1761.5,935" fill="none" stroke-width="2.4" stroke-linejoin="miter"/>
<line x1="890.5" y1="993.5" x2="890.5" y2="1065.8" stroke-width="2.5"/>
<polygon points="890.5,1083 884.8,1062 890.5,1064.8 896.2,1062" fill="#231f20" stroke="none"/>
<text x="635" y="1043" style="font-size:28.5px" textLength="243" lengthAdjust="spacingAndGlyphs">CCl<tspan dy="5.1" font-size="21.38">4</tspan><tspan dy="-5.1">, Et</tspan><tspan dy="5.1" font-size="21.38">3</tspan><tspan dy="-5.1">N, ДМАП</tspan></text>
<line x1="983.8" y1="675.8" x2="1007.5" y2="675.8" stroke-width="2.4"/>
<line x1="995.6" y1="664.2" x2="995.6" y2="687" stroke-width="2.4"/>
<text x="289" y="428" style="font-size:37px" textLength="121" lengthAdjust="spacingAndGlyphs"><tspan font-weight="bold">4</tspan> (82%)</text>
<text x="1458.5" y="363" style="font-size:37px" font-weight="bold" text-anchor="middle">1</text>
<text x="352" y="968.75" style="font-size:37px" font-weight="bold" text-anchor="middle">5</text>
<text x="1470.4" y="968.8" style="font-size:37px" textLength="119.6" lengthAdjust="spacingAndGlyphs"><tspan font-weight="bold">3</tspan> (78%)</text>
<text x="831.4" y="1429.75" style="font-size:37px" textLength="119.6" lengthAdjust="spacingAndGlyphs"><tspan font-weight="bold">6</tspan> (77%)</text>
</svg>
</body>
</html>
